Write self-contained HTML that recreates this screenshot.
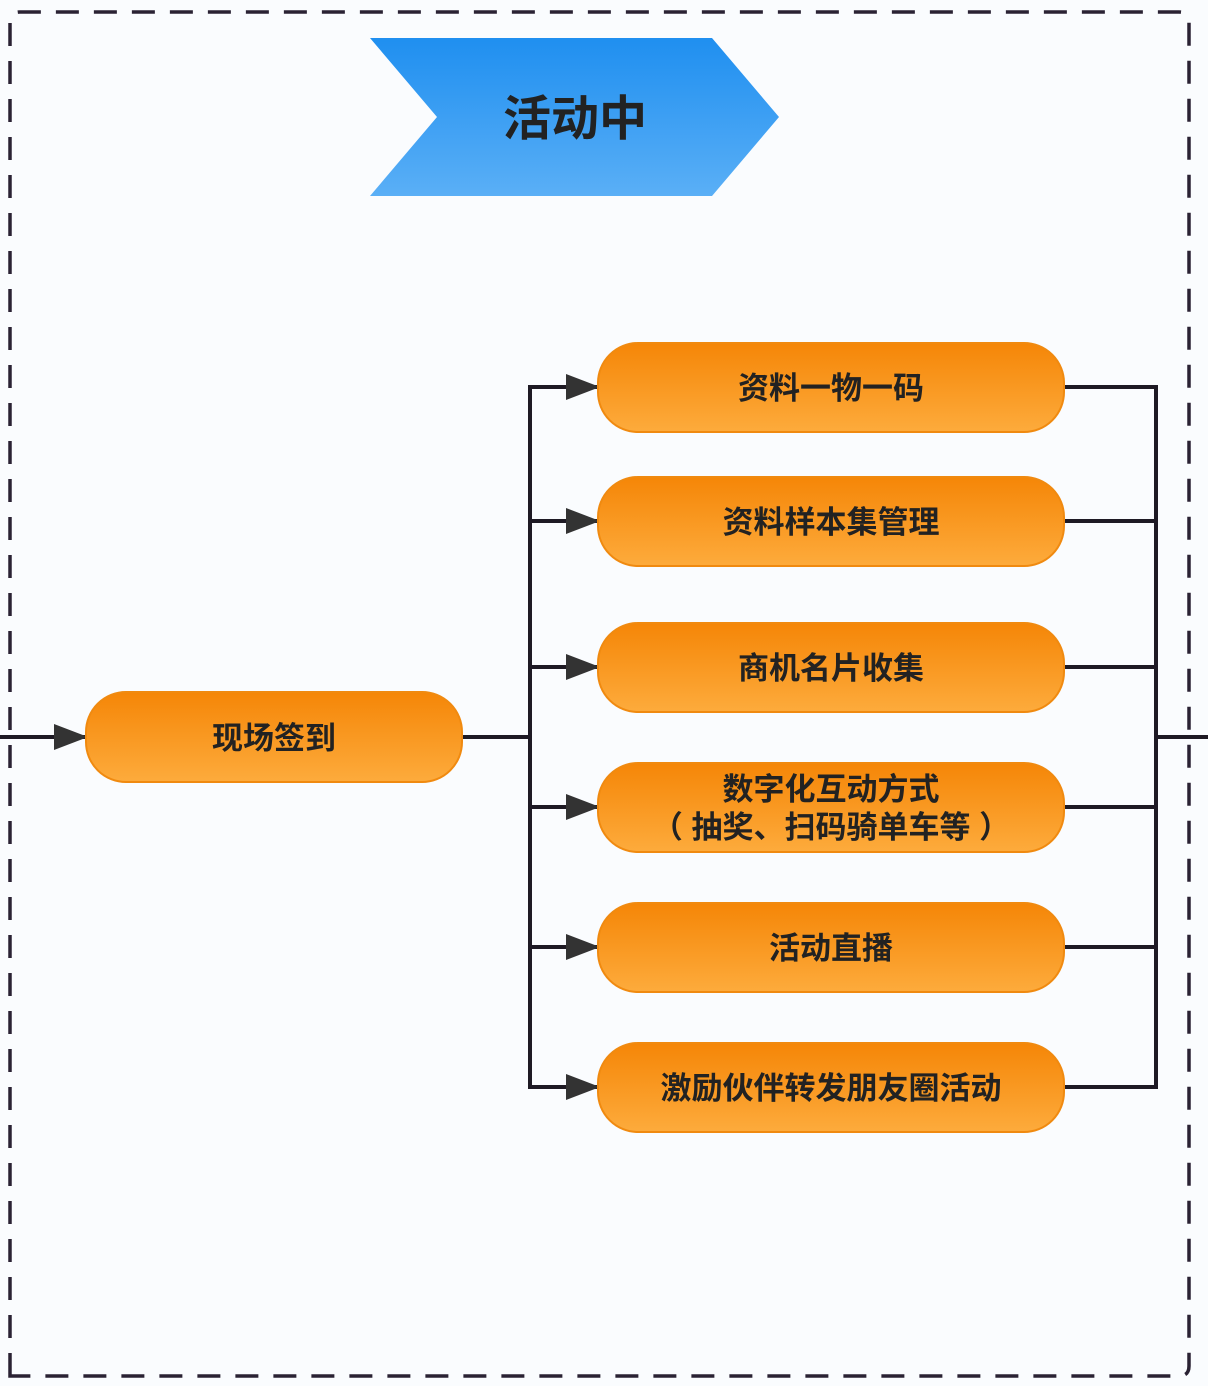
<!DOCTYPE html>
<html><head><meta charset="utf-8"><style>
html,body{margin:0;padding:0;background:#fafcfe;}
svg{display:block;}
text{font-family:"Liberation Sans","Noto Sans CJK SC","WenQuanYi Zen Hei",sans-serif;font-weight:bold;fill:#222;}
</style></head><body>
<svg width="1208" height="1386" viewBox="0 0 1208 1386" xmlns="http://www.w3.org/2000/svg">
<defs>
<linearGradient id="og" x1="0" y1="0" x2="0" y2="1">
<stop offset="0" stop-color="#f58607"/><stop offset="1" stop-color="#fdab3c"/>
</linearGradient>
<linearGradient id="bg" x1="0" y1="0" x2="0" y2="1">
<stop offset="0" stop-color="#1f8ff0"/><stop offset="1" stop-color="#5aaff6"/>
</linearGradient>
<marker id="ar" markerWidth="34" markerHeight="26" refX="33" refY="13" orient="auto" markerUnits="userSpaceOnUse">
<path d="M0,0 L34,13 L0,26 Z" fill="#333"/>
</marker>
</defs>
<rect x="0" y="0" width="1208" height="1386" fill="#fafcfe"/>
<path d="M10,1376 L10,22 Q10,12 20,12 L1179,12 Q1189,12 1189,22 L1189,1366 Q1189,1376 1179,1376 Z" fill="none" stroke="#2a2233" stroke-width="3.5" stroke-dasharray="23 15"/>
<polygon points="370,38 712,38 779,117 712,196 370,196 437,117" fill="url(#bg)"/>
<text x="575" y="135" font-size="48" text-anchor="middle" fill="#111">活动中</text>

<g stroke="#1e1a24" stroke-width="4" fill="none">
<line x1="0" y1="737" x2="87" y2="737" marker-end="url(#ar)"/>
<line x1="462" y1="737" x2="530" y2="737"/>
<line x1="530" y1="385" x2="530" y2="1089"/>
<line x1="530" y1="387" x2="599" y2="387" marker-end="url(#ar)"/>
<line x1="530" y1="521" x2="599" y2="521" marker-end="url(#ar)"/>
<line x1="530" y1="667" x2="599" y2="667" marker-end="url(#ar)"/>
<line x1="530" y1="807" x2="599" y2="807" marker-end="url(#ar)"/>
<line x1="530" y1="947" x2="599" y2="947" marker-end="url(#ar)"/>
<line x1="530" y1="1087" x2="599" y2="1087" marker-end="url(#ar)"/>
<line x1="1064" y1="387" x2="1156" y2="387"/>
<line x1="1064" y1="521" x2="1156" y2="521"/>
<line x1="1064" y1="667" x2="1156" y2="667"/>
<line x1="1064" y1="807" x2="1156" y2="807"/>
<line x1="1064" y1="947" x2="1156" y2="947"/>
<line x1="1064" y1="1087" x2="1156" y2="1087"/>
<line x1="1156" y1="385" x2="1156" y2="1089"/>
<line x1="1156" y1="737" x2="1208" y2="737"/>
</g>

<g fill="url(#og)" stroke="#f08a10" stroke-width="2">
<rect x="86" y="692" width="376" height="90" rx="40"/>
<rect x="598" y="343" width="466" height="89" rx="40"/>
<rect x="598" y="477" width="466" height="89" rx="40"/>
<rect x="598" y="623" width="466" height="89" rx="40"/>
<rect x="598" y="763" width="466" height="89" rx="40"/>
<rect x="598" y="903" width="466" height="89" rx="40"/>
<rect x="598" y="1043" width="466" height="89" rx="40"/>
</g>
<g font-size="31" text-anchor="middle">
<text x="274" y="749">现场签到</text>
<text x="831" y="399">资料一物一码</text>
<text x="831" y="533">资料样本集管理</text>
<text x="831" y="679">商机名片收集</text>
<text x="831" y="800">数字化互动方式</text>
<text x="831" y="838">（ 抽奖、扫码骑单车等 ）</text>
<text x="831" y="959">活动直播</text>
<text x="831" y="1099">激励伙伴转发朋友圈活动</text>
</g>
</svg>
</body></html>
